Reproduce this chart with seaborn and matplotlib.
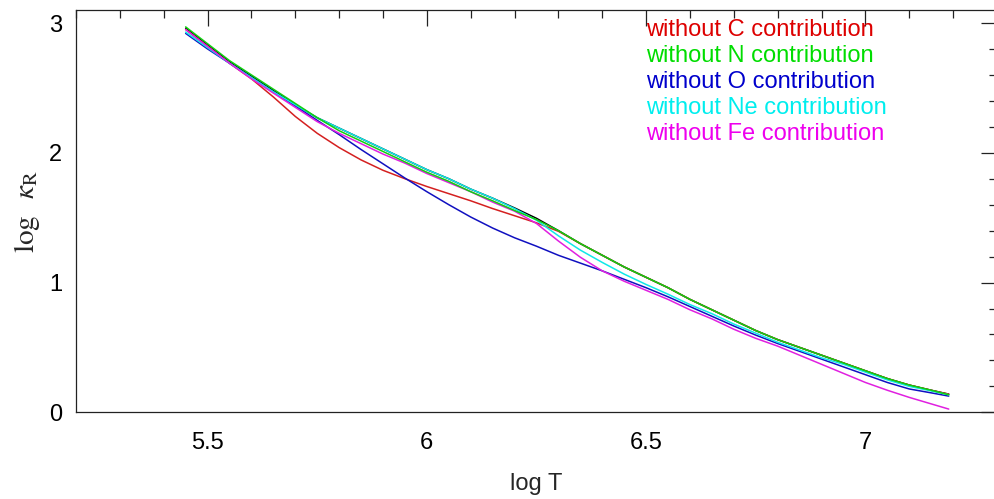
import numpy as np
import pandas as pd
import matplotlib
matplotlib.use('Agg')
import matplotlib.pyplot as plt
import seaborn as sns
from matplotlib.ticker import MultipleLocator

# log T grid
log_t = [5.45, 5.50, 5.55, 5.60, 5.65, 5.70, 5.75, 5.80, 5.85, 5.90, 5.95, 6.00,
         6.05, 6.10, 6.15, 6.20, 6.25, 6.30, 6.35, 6.40, 6.45, 6.50, 6.55, 6.60,
         6.65, 6.70, 6.75, 6.80, 6.85, 6.90, 6.95, 7.00, 7.05, 7.10, 7.15, 7.19]

# log kappa_R, full mixture and with one element removed
k_all = [2.96, 2.83, 2.70, 2.59, 2.48, 2.37, 2.27, 2.19, 2.11, 2.03, 1.95, 1.87,
         1.80, 1.72, 1.65, 1.575, 1.495, 1.40, 1.30, 1.21, 1.12, 1.04, 0.96, 0.87,
         0.79, 0.71, 0.63, 0.56, 0.50, 0.44, 0.38, 0.32, 0.26, 0.21, 0.17, 0.14]
k_no_c = [2.95, 2.82, 2.69, 2.57, 2.43, 2.28, 2.15, 2.04, 1.945, 1.865, 1.80, 1.74,
          1.685, 1.63, 1.57, 1.515, 1.46, 1.395, 1.30, 1.21, 1.12, 1.04, 0.96, 0.87,
          0.79, 0.71, 0.63, 0.56, 0.50, 0.44, 0.38, 0.32, 0.26, 0.21, 0.17, 0.14]
k_no_n = [2.97, 2.84, 2.71, 2.60, 2.49, 2.38, 2.27, 2.17, 2.09, 2.01, 1.93, 1.85,
          1.78, 1.70, 1.63, 1.555, 1.485, 1.40, 1.30, 1.21, 1.12, 1.04, 0.96, 0.87,
          0.79, 0.71, 0.63, 0.56, 0.50, 0.44, 0.38, 0.32, 0.26, 0.21, 0.17, 0.135]
k_no_o = [2.92, 2.80, 2.69, 2.58, 2.47, 2.36, 2.25, 2.14, 2.025, 1.915, 1.805, 1.70,
          1.60, 1.505, 1.42, 1.345, 1.28, 1.21, 1.15, 1.09, 1.025, 0.96, 0.89, 0.815,
          0.74, 0.665, 0.595, 0.53, 0.47, 0.41, 0.35, 0.29, 0.23, 0.18, 0.15, 0.125]
k_no_ne = [2.93, 2.81, 2.69, 2.58, 2.47, 2.37, 2.27, 2.19, 2.11, 2.03, 1.95, 1.87,
           1.80, 1.72, 1.65, 1.57, 1.48, 1.36, 1.25, 1.155, 1.065, 0.985, 0.91, 0.83,
           0.76, 0.68, 0.61, 0.54, 0.48, 0.42, 0.37, 0.31, 0.25, 0.20, 0.165, 0.135]
k_no_fe = [2.95, 2.82, 2.69, 2.57, 2.46, 2.35, 2.24, 2.15, 2.07, 1.99, 1.92, 1.84,
           1.77, 1.70, 1.62, 1.55, 1.455, 1.32, 1.195, 1.09, 1.01, 0.94, 0.87, 0.79,
           0.72, 0.64, 0.57, 0.51, 0.44, 0.37, 0.30, 0.23, 0.17, 0.115, 0.065, 0.025]

labels = ['without C contribution', 'without N contribution', 'without O contribution',
          'without Ne contribution', 'without Fe contribution']
line_colors = ['#d42020', '#10d010', '#1010c0', '#10e8e8', '#e020e0']
text_colors = ['#dd0000', '#00dd00', '#0000cc', '#00eeee', '#ee00ee']

x_ticks = [5.5, 6, 6.5, 7]
x_tick_labels = ['5.5', '6', '6.5', '7']
y_ticks = [0, 1, 2, 3]
y_tick_labels = ['0', '1', '2', '3']

sns.set_theme(style='white')
plt.rcParams['font.family'] = ['Liberation Sans', 'DejaVu Sans']
plt.rcParams['mathtext.fontset'] = 'stix'

fig = plt.figure(figsize=(9.95, 4.99), dpi=100)
ax = fig.add_axes([0.0764, 0.1737, 0.9256, 0.8062])

sns.lineplot(x=log_t, y=k_all, color='black', lw=1.1, ax=ax)
series = [k_no_c, k_no_o, k_no_ne, k_no_fe, k_no_n]
order = [0, 2, 3, 4, 1]
for s, i in zip(series, order):
    sns.lineplot(x=log_t, y=s, color=line_colors[i], lw=1.1, ax=ax)

for i, (lab, col) in enumerate(zip(labels, text_colors)):
    ax.text(6.5, 2.9 - 0.2 * i, lab, color=col, fontsize=17, va='baseline', ha='left')

ax.set_xlim(5.2, 7.3)
ax.set_ylim(0, 3.1)
ax.set_xticks(x_ticks, x_tick_labels)
ax.set_yticks(y_ticks, y_tick_labels)
ax.xaxis.set_minor_locator(MultipleLocator(0.1))
ax.yaxis.set_minor_locator(MultipleLocator(0.2))
ax.tick_params(which='both', direction='in', top=True, right=True, colors='#222222',
               labelcolor='black', labelsize=17)
ax.tick_params(which='major', length=11.5, width=0.9)
ax.tick_params(which='minor', length=6, width=0.9)
ax.tick_params(axis='x', which='major', pad=14)
ax.tick_params(axis='y', which='major', pad=10)
for sp in ax.spines.values():
    sp.set_color('#222222')
    sp.set_linewidth(0.9)

ax.set_xlabel('log T', fontsize=17, labelpad=14)
ax.set_ylabel(r'$\log\ \ \kappa_{\rm R}$', fontsize=21, labelpad=5)

fig.savefig('out.png', dpi=100)
